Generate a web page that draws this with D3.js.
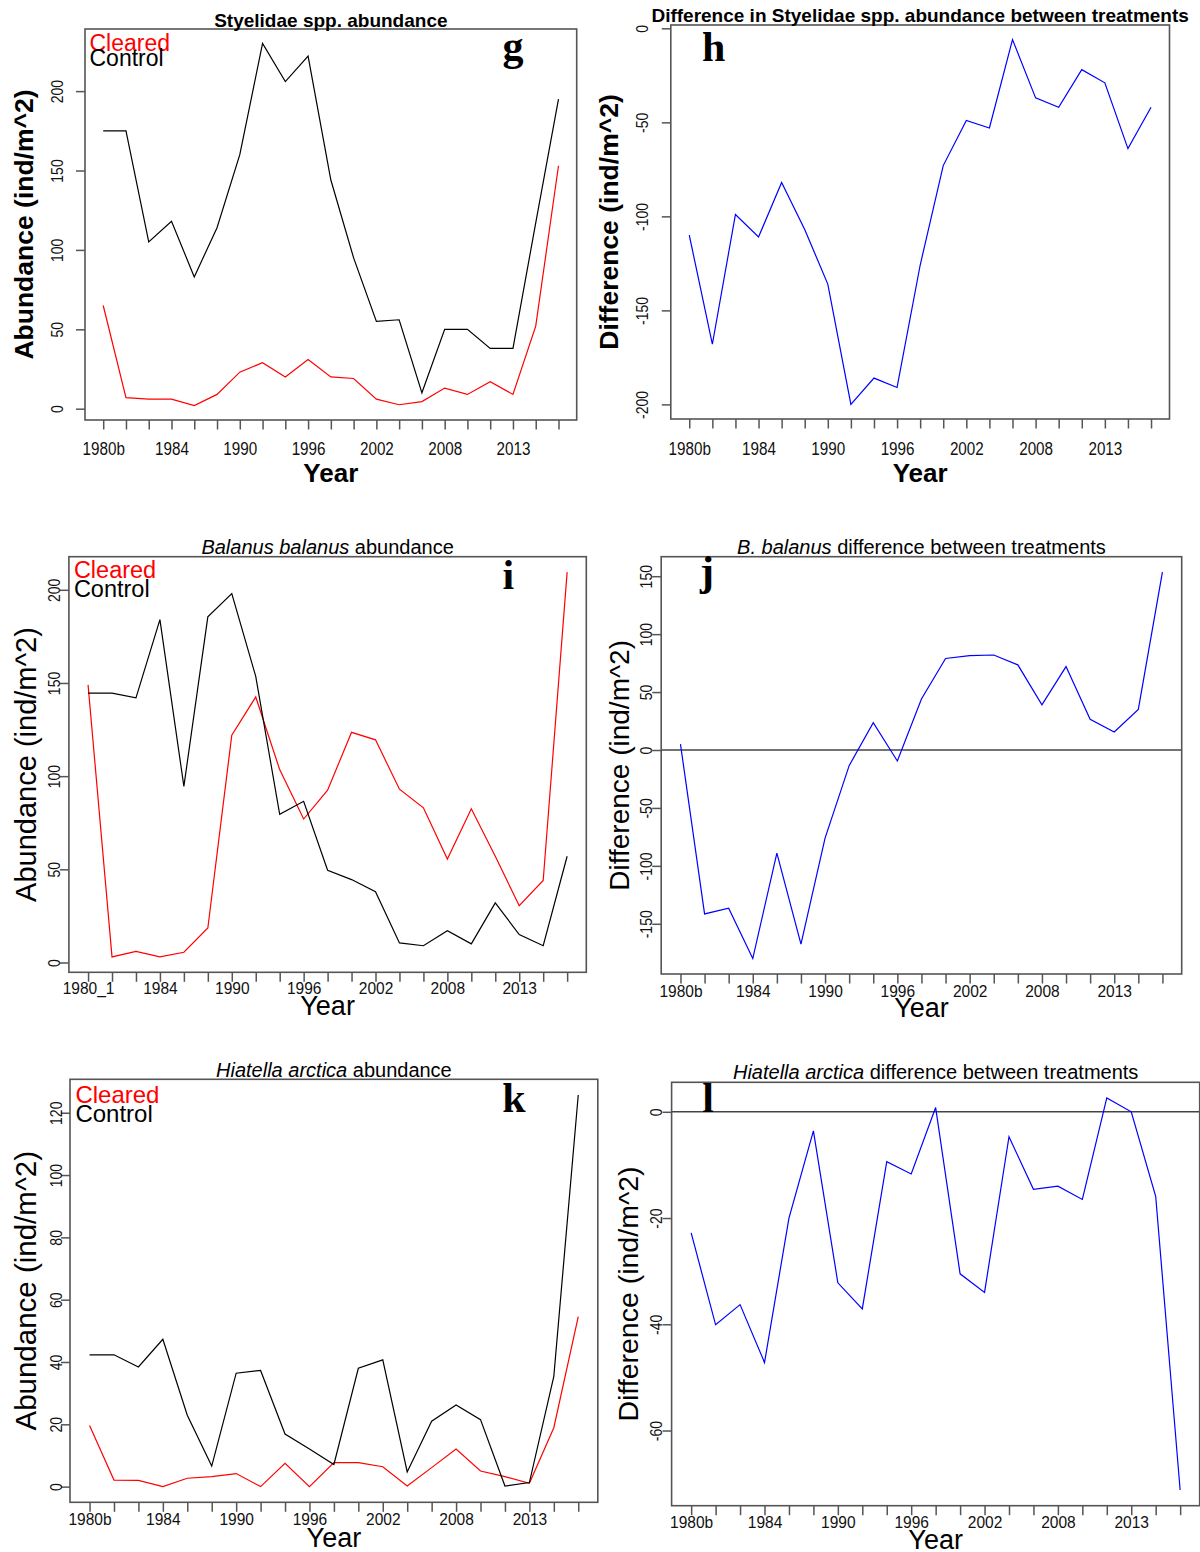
<!DOCTYPE html>
<meta charset="utf-8">
<head>
    <title>Cleared vs control abundance</title>
</head>
<style>
    body { margin: 0; background: #fff; }
    svg { display: block; }
</style>
<script src="https://d3js.org/d3.v7.min.js"></script>
<body>
    <div id="chart"></div>
</body>
<script>

    // x categories (survey years), only every third one gets a label in the plot
    var years = ["1980b", "1980c", "1982", "1984", "1986", "1988", "1990", "1992", "1994", "1996", "1998",
        "2000", "2002", "2004", "2006", "2008", "2010", "2011", "2013", "2015", "2017"];
    var yearLabels = ["1980b", "1984", "1990", "1996", "2002", "2008", "2013"];
    var yearLabelsBalanus = ["1980_1", "1984", "1990", "1996", "2002", "2008", "2013"];

    // Styelidae spp.
    var styControl = [175, 175, 105, 118, 83, 114, 160, 230, 206, 222, 144, 95, 55, 56, 10, 50, 50, 38, 38, 117, 195];
    var styCleared = [65, 7, 6, 6, 2, 9, 23, 29, 20, 31, 20, 19, 6, 2.5, 4.5, 13, 9, 17, 9, 52, 153];
    var styDiff = [-110, -168, -99, -111, -82, -107, -136, -200, -186, -191, -126, -73, -49, -53, -6, -37, -42, -22, -29, -64, -42];

    // Balanus balanus
    var balControl = [144.5, 144.5, 142, 184, 94.5, 185.5, 198, 153.5, 79.5, 86.5, 49.5, 44.5, 38, 10.5, 9, 17, 10, 32, 15, 9, 57];
    var balCleared = [149, 3, 6, 3, 5.5, 18.5, 122, 142.5, 103.5, 77, 92.5, 123.5, 119.5, 93, 83, 55.5, 82.5, 57, 30.5, 44, 209.5];
    var balDiff = [5, -141.5, -136.5, -180, -89, -167.5, -76, -13.5, 23.5, -9.5, 44, 79, 81.5, 82, 73.5, 39, 72, 26.5, 15.5, 35, 153.5];

    // Hiatella arctica
    var hiaControl = [42.3, 42.3, 38.4, 47.3, 22.9, 6.6, 36.4, 37.3, 16.9, 12.1, 7.1, 38, 40.7, 4.7, 21, 26.2, 21.5, 0.2, 1.3, 35.4, 125.7];
    var hiaCleared = [19.6, 2.1, 2, 0, 2.7, 3.2, 4.2, 0, 7.5, 0, 7.7, 7.7, 6.4, 0.2, 6.1, 12.1, 5, 3.2, 1.1, 18.9, 54.6];
    var hiaDiff = [-22.8, -40.1, -36.3, -47.2, -20, -3.6, -32.2, -37.1, -9.4, -11.7, 0.8, -30.5, -34, -4.7, -14.6, -14, -16.5, 2.6, 0, -15.9, -71.2];

    // y axis tick values
    var ticksSty = [0, 50, 100, 150, 200];
    var ticksStyDiff = [0, -50, -100, -150, -200];
    var ticksBal = [0, 50, 100, 150, 200];
    var ticksBalDiff = [-150, -100, -50, 0, 50, 100, 150];
    var ticksHia = [0, 20, 40, 60, 80, 100, 120];
    var ticksHiaDiff = [0, -20, -40, -60];

    var SANS = "'Liberation Sans', Arial, sans-serif";
    var SERIF = "'Liberation Serif', 'Times New Roman', serif";

    var panels = [
        {
            box: [85, 576.7, 29, 420], bold: true, title: [["Styelidae spp. abundance", false]], titleY: 26.7, titleSize: 19,
            yTitle: "Abundance (ind/m^2)", yTitleX: 33, yTitleSize: 26.5, yTickX: 62.5, ticks: ticksSty,
            xLabels: yearLabels, xLabelY: 454.5, xLabelSize: 17.5, xLabelSqueeze: 0.87, yearY: 482, yearSize: 26,
            letter: "g", letterX: 513, letterY: 60,
            series: [[styCleared, "#ff0000"], [styControl, "#000"]],
            legend: { x: 89.5, y1: 50.7, y2: 65.7, size: 23 }
        },
        {
            box: [670.8, 1169.5, 25, 419], bold: true, title: [["Difference in Styelidae spp. abundance between treatments", false]], titleY: 21.7, titleSize: 19,
            yTitle: "Difference (ind/m^2)", yTitleX: 618, yTitleSize: 26.5, yTickX: 647.8, ticks: ticksStyDiff,
            xLabels: yearLabels, xLabelY: 455, xLabelSize: 17.5, xLabelSqueeze: 0.87, yearY: 481.7, yearSize: 26,
            letter: "h", letterX: 713.8, letterY: 61,
            series: [[styDiff, "#0000ff"]]
        },
        {
            box: [68.9, 586.3, 556.7, 972.3], bold: false, title: [["Balanus balanus", true], [" abundance", false]], titleY: 554.3, titleSize: 20,
            yTitle: "Abundance (ind/m^2)", yTitleX: 36, yTitleSize: 29, yTickX: 60, ticks: ticksBal,
            xLabels: yearLabelsBalanus, xLabelY: 994, xLabelSize: 16, xLabelSqueeze: 0.97, yearY: 1015, yearSize: 27,
            letter: "i", letterX: 508.4, letterY: 589,
            series: [[balCleared, "#ff0000"], [balControl, "#000"]],
            legend: { x: 73.9, y1: 578.3, y2: 597.3, size: 23.5 }
        },
        {
            box: [661.2, 1181.7, 556.7, 974], bold: false, title: [["B. balanus", true], [" difference between treatments", false]], titleY: 554.3, titleSize: 20,
            yTitle: "Difference (ind/m^2)", yTitleX: 629, yTitleSize: 28, yTickX: 651.7, ticks: ticksBalDiff,
            xLabels: yearLabels, xLabelY: 996.5, xLabelSize: 16, xLabelSqueeze: 0.97, yearY: 1016.7, yearSize: 27,
            letter: "j", letterX: 707, letterY: 585, zeroLine: true,
            series: [[balDiff, "#0000ff"]]
        },
        {
            box: [70, 597.8, 1079.3, 1502.3], bold: false, title: [["Hiatella arctica", true], [" abundance", false]], titleY: 1076.7, titleSize: 20,
            yTitle: "Abundance (ind/m^2)", yTitleX: 36, yTitleSize: 29.5, yTickX: 62, ticks: ticksHia,
            xLabels: yearLabels, xLabelY: 1525, xLabelSize: 16, xLabelSqueeze: 0.97, yearY: 1546.7, yearSize: 27,
            letter: "k", letterX: 514, letterY: 1111.7,
            series: [[hiaCleared, "#ff0000"], [hiaControl, "#000"]],
            legend: { x: 75.4, y1: 1103.3, y2: 1121.7, size: 24 }
        },
        {
            box: [671.6, 1199.7, 1082.3, 1505.7], bold: false, title: [["Hiatella arctica", true], [" difference between treatments", false]], titleY: 1079.3, titleSize: 20,
            yTitle: "Difference (ind/m^2)", yTitleX: 638, yTitleSize: 28.5, yTickX: 662, ticks: ticksHiaDiff,
            xLabels: yearLabels, xLabelY: 1528, xLabelSize: 16, xLabelSqueeze: 0.97, yearY: 1549, yearSize: 27,
            letter: "l", letterX: 708, letterY: 1111.7, zeroLine: true,
            series: [[hiaDiff, "#0000ff"]]
        }
    ];

    var svg = d3.select("#chart")
        .append("svg")
        .attr("width", 1200)
        .attr("height", 1552);

    svg.append("rect").attr("width", 1200).attr("height", 1552).attr("fill", "#fff");

    // R style y range: data range stretched by 4% on each side
    function paddedDomain(arrs) {
        var all = [].concat.apply([], arrs);
        var lo = d3.min(all), hi = d3.max(all), r = hi - lo;
        return [lo - 0.04 * r, hi + 0.04 * r];
    }

    panels.forEach(function (p) {
        var left = p.box[0], right = p.box[1], top = p.box[2], bottom = p.box[3];
        var g = svg.append("g");

        var x = d3.scalePoint()
            .domain(years)
            .range([left, right])
            .padding(0.8);

        var y = d3.scaleLinear()
            .domain(paddedDomain(p.series.map(function (s) { return s[0]; })))
            .range([bottom, top]);

        // zero reference line
        if (p.zeroLine) {
            g.append("line")
                .attr("x1", left).attr("x2", right)
                .attr("y1", y(0)).attr("y2", y(0))
                .attr("stroke", "#444")
                .attr("stroke-width", 1.5);
        }

        // data lines
        p.series.forEach(function (s) {
            g.append("path")
                .datum(s[0])
                .attr("fill", "none")
                .attr("stroke", s[1])
                .attr("stroke-width", 1.2)
                .attr("d", d3.line()
                    .x(function (d, i) { return x(years[i]); })
                    .y(function (d) { return y(d); }));
        });

        // plot box
        g.append("rect")
            .attr("x", left).attr("y", top)
            .attr("width", right - left).attr("height", bottom - top)
            .attr("fill", "none")
            .attr("stroke", "#555")
            .attr("stroke-width", 1.6);

        // x axis
        var xaxis = g.append("g")
            .attr("transform", "translate(0," + bottom + ")")
            .call(d3.axisBottom(x)
                .tickSize(9.5)
                .tickFormat(function (d, i) { return i % 3 === 0 ? p.xLabels[i / 3] : ""; }));
        xaxis.select(".domain").remove();
        xaxis.selectAll(".tick line").attr("stroke", "#555").attr("stroke-width", 1.5);
        xaxis.selectAll(".tick text")
            .attr("y", null)
            .attr("dy", null)
            .attr("transform", "translate(0," + (p.xLabelY - bottom) + ") scale(" + p.xLabelSqueeze + ",1)")
            .attr("fill", "#111")
            .style("font-family", SANS)
            .style("font-size", p.xLabelSize + "px");

        // y axis, labels turned to read upwards like R's default
        var yaxis = g.append("g")
            .attr("transform", "translate(" + left + ",0)")
            .call(d3.axisLeft(y)
                .tickValues(p.ticks)
                .tickSize(9)
                .tickFormat(function (d) { return String(d); }));
        yaxis.select(".domain").remove();
        yaxis.selectAll(".tick line").attr("stroke", "#555").attr("stroke-width", 1.5);
        yaxis.selectAll(".tick text")
            .attr("x", 0)
            .attr("dy", null)
            .attr("text-anchor", "middle")
            .attr("transform", "translate(" + (p.yTickX - left) + ",0) rotate(-90) scale(0.85,1)")
            .attr("fill", "#111")
            .style("font-family", SANS)
            .style("font-size", "16.5px");

        // title
        var title = g.append("text")
            .attr("x", (left + right) / 2)
            .attr("y", p.titleY)
            .attr("text-anchor", "middle")
            .style("font-family", SANS)
            .style("font-size", p.titleSize + "px")
            .style("font-weight", p.bold ? "bold" : "normal");
        p.title.forEach(function (part) {
            title.append("tspan")
                .style("font-style", part[1] ? "italic" : "normal")
                .text(part[0]);
        });

        // axis titles
        g.append("text")
            .attr("x", (left + right) / 2)
            .attr("y", p.yearY)
            .attr("text-anchor", "middle")
            .style("font-family", SANS)
            .style("font-size", p.yearSize + "px")
            .style("font-weight", p.bold ? "bold" : "normal")
            .text("Year");

        g.append("text")
            .attr("transform", "translate(" + p.yTitleX + "," + ((top + bottom) / 2) + ") rotate(-90)")
            .attr("text-anchor", "middle")
            .style("font-family", SANS)
            .style("font-size", p.yTitleSize + "px")
            .style("font-weight", p.bold ? "bold" : "normal")
            .text(p.yTitle);

        // panel letter
        g.append("text")
            .attr("x", p.letterX)
            .attr("y", p.letterY)
            .attr("text-anchor", "middle")
            .style("font-family", SERIF)
            .style("font-size", "42px")
            .style("font-weight", "bold")
            .text(p.letter);

        // legend
        if (p.legend) {
            g.append("text")
                .attr("x", p.legend.x).attr("y", p.legend.y1)
                .attr("fill", "#ff0000")
                .style("font-family", SANS)
                .style("font-size", p.legend.size + "px")
                .text("Cleared");
            g.append("text")
                .attr("x", p.legend.x).attr("y", p.legend.y2)
                .attr("fill", "#000")
                .style("font-family", SANS)
                .style("font-size", p.legend.size + "px")
                .text("Control");
        }
    });

</script>
